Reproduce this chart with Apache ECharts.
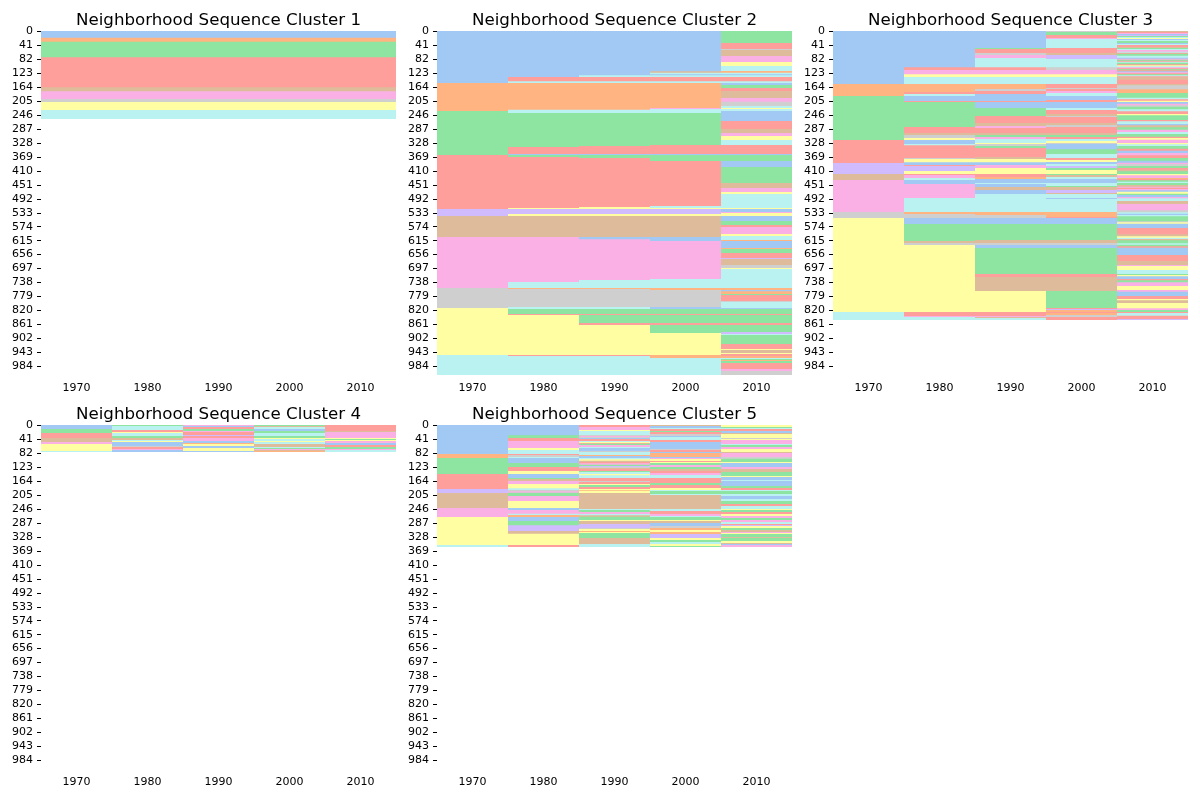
<!DOCTYPE html>
<html>
<head>
<meta charset="utf-8">
<style>html,body{margin:0;padding:0;background:#fff}#c{width:1200px;height:800px}</style>
<script src="https://cdn.jsdelivr.net/npm/echarts@6/dist/echarts.min.js"></script>
</head>
<body>
<div id="c"></div>
<script>
// Decades and neighbourhood-type colours
const decades = ['1970', '1980', '1990', '2000', '2010'];
const stateColors = ['#a1c9f4', '#ffb482', '#8de5a1', '#ff9f9b', '#d0bbff', '#debb9b', '#fab0e4', '#cfcfcf', '#fffea3', '#b9f2f0'];
const yTickLabels = [0, 41, 82, 123, 164, 205, 246, 287, 328, 369, 410, 451, 492, 533, 574, 615, 656, 697, 738, 779, 820, 861, 902, 943, 984];
const xMeasuredToRows = 0.98; // run lengths below were read in third-of-a-pixel steps

// Each list: state, run length, state, run length ...
const c1_all = [0,20,1,12,2,47,3,90,5,12,6,23,7,9,8,24,9,27];

const c2_1970 = [0,156,1,84,2,132,3,162,4,21,5,63,6,153,7,60,8,141,9,60];
const c2_1980 = [0,138,3,13,9,5,1,80,9,10,2,102,3,21,0,3,2,6,3,153,8,3,4,15,8,6,5,63,6,135,9,18,1,3,7,54,9,6,2,15,3,3,8,120,3,3,9,57];
const c2_1990 = [0,133,9,5,3,13,9,5,1,80,9,10,2,99,3,24,0,3,2,9,3,147,8,6,4,15,8,6,5,63,0,7,6,122,9,24,1,3,7,54,9,6,2,15,3,3,2,24,3,6,8,90,3,3,9,57];
const c2_2000 = [0,121,5,4,9,5,0,3,9,5,3,13,9,5,1,75,6,3,9,12,2,96,3,27,0,3,2,18,3,135,9,6,8,3,4,15,8,6,5,63,0,12,6,114,9,27,1,6,7,51,0,6,2,15,3,3,2,24,3,6,2,24,8,66,1,9,9,51];
const c2_2010 = [2,36,3,18,7,3,5,18,6,18,8,12,9,15,1,5,9,5,0,3,9,5,3,13,9,5,0,6,2,9,3,9,5,21,6,11,7,13,9,6,8,3,9,6,0,30,3,24,5,12,6,9,8,12,9,15,3,27,0,3,2,18,0,18,2,48,5,15,6,12,8,6,9,42,8,3,0,9,6,3,8,9,0,15,2,12,3,6,6,21,8,6,9,12,1,3,0,21,1,3,2,12,3,15,4,3,5,18,7,9,8,3,9,57,1,6,0,4,1,8,2,3,3,18,7,3,9,18,0,3,2,15,3,3,2,24,3,6,2,21,4,6,9,3,2,27,3,15,8,3,5,9,8,3,3,6,1,6,9,3,2,3,1,3,2,6,3,18,6,6,7,12];

const c3_1970 = [0,159,1,36,2,132,3,69,4,33,5,18,6,96,7,18,8,282,9,24];
const c3_1980 = [0,109,3,8,6,13,8,8,9,21,1,24,3,6,9,6,0,15,3,3,2,75,3,18,5,6,7,9,8,6,0,12,9,4,3,38,7,3,8,10,0,8,3,3,4,15,8,9,3,3,6,9,9,6,0,12,6,42,9,42,1,6,7,12,0,18,2,51,5,6,7,6,8,201,3,12,6,3,9,9];
const c3_1990 = [0,51,2,3,3,12,7,6,6,9,9,28,3,8,6,13,8,8,9,21,1,15,7,6,3,9,0,21,3,3,0,18,2,24,3,21,5,9,6,6,3,15,5,6,2,6,6,6,9,12,8,3,7,6,2,6,3,27,5,6,8,10,0,8,6,9,8,18,3,9,1,6,0,12,9,3,0,9,5,9,0,12,9,54,1,9,7,9,0,18,2,48,5,9,7,6,0,9,2,78,3,9,5,42,8,63,3,12,6,3,5,3,9,6];
const c3_2000 = [7,3,2,9,3,9,6,3,9,27,3,15,5,6,4,12,9,25,7,8,6,13,8,8,9,21,3,12,7,3,3,6,6,6,9,9,0,12,3,6,0,18,9,6,3,12,5,6,7,3,3,18,5,6,7,6,3,18,5,6,2,6,3,6,9,6,8,6,7,3,0,16,2,14,9,12,3,6,8,6,0,6,9,6,4,6,2,6,8,12,2,3,5,6,9,6,0,12,9,9,2,3,5,9,4,9,5,3,9,12,0,3,9,39,1,15,3,3,0,18,2,48,5,9,7,6,0,9,2,78,3,9,5,42,2,51,3,3,4,3,1,6,3,3,1,6,7,6,3,9];
const c3_2010 = [5,3,3,3,6,3,0,3,4,3,2,3,9,3,8,3,0,3,9,3,2,6,0,3,9,3,3,6,5,3,2,3,9,3,6,5,9,3,3,3,2,6,9,6,0,3,6,3,2,3,3,3,9,3,2,5,3,3,8,3,9,3,6,3,3,3,2,3,3,3,0,3,6,3,3,3,2,3,9,3,3,3,5,7,3,13,5,4,7,12,1,11,2,14,9,5,3,4,8,4,0,5,6,5,7,4,2,8,9,6,3,8,8,4,2,14,3,4,9,8,0,4,5,6,2,7,6,7,9,6,2,8,3,4,8,5,6,10,8,4,9,5,2,8,3,6,0,7,6,7,3,8,2,8,0,6,6,4,7,6,2,6,3,5,5,5,2,8,8,4,6,8,1,3,3,4,2,4,9,4,2,6,5,5,6,3,3,4,6,4,0,4,8,6,2,4,0,6,6,4,9,8,5,9,6,19,7,6,9,4,0,4,9,4,2,15,7,3,8,4,0,13,3,19,5,6,8,4,9,4,5,4,2,9,9,4,2,5,3,4,0,22,3,18,5,12,6,3,8,12,9,12,2,3,8,4,0,8,3,4,2,6,6,11,8,12,6,5,0,13,3,9,8,4,5,8,8,16,6,5,2,6,3,3,9,8,3,10,4,3];

const c4_1970 = [0,12,2,12,3,15,5,12,6,6,8,21,9,3];
const c4_1980 = [2,3,9,12,3,6,8,3,9,9,2,6,5,6,9,3,8,3,0,12,7,3,3,6,6,3,0,6];
const c4_1990 = [6,3,0,3,3,6,2,6,6,3,3,9,4,3,3,6,6,9,0,6,1,3,8,6,0,6,8,9,0,3];
const c4_2000 = [2,3,5,3,9,6,0,6,2,6,9,9,2,6,8,3,9,6,8,3,9,6,5,9,9,3,2,3,6,3,5,3,1,3];
const c4_2010 = [3,18,5,3,6,18,8,3,2,3,8,3,6,6,0,6,3,6,2,6,6,3,9,6];

const c5_1970 = [0,87,1,12,2,48,3,45,4,12,5,45,6,27,8,84,9,6];
const c5_1980 = [0,31,2,8,3,9,6,21,8,6,9,12,3,3,7,6,9,3,0,15,2,12,3,12,8,9,0,12,2,3,5,6,6,9,8,13,9,5,7,4,6,4,2,10,6,15,8,21,0,6,6,11,9,4,1,6,0,12,2,13,4,17,5,8,8,34,3,6];
const c5_1990 = [3,6,6,9,8,3,9,12,7,3,6,3,7,3,0,3,3,6,9,3,8,3,5,3,2,3,6,6,9,3,0,9,7,3,9,9,1,3,0,6,9,4,8,4,5,4,3,4,6,4,2,4,4,3,7,3,5,3,3,6,2,3,9,6,8,4,9,8,3,9,7,3,3,6,8,3,2,6,3,6,8,3,1,2,8,7,5,48,9,3,2,6,6,6,9,4,5,4,2,10,8,3,5,9,4,12,7,3,8,6,1,3,8,3,2,15,5,18,9,9];
const c5_2000 = [5,3,0,6,9,3,3,6,2,3,3,6,7,6,0,3,9,9,3,6,0,21,7,3,3,6,0,3,1,12,0,3,6,3,8,6,3,3,8,3,2,6,6,6,2,6,5,6,3,6,6,6,9,9,3,15,2,6,3,9,8,6,9,3,2,9,9,3,5,42,9,6,3,9,6,6,9,3,2,9,8,3,5,6,0,9,7,6,1,6,8,6,1,6,4,12,8,6,2,6,9,6,8,6,2,3];
const c5_2010 = [8,6,2,3,9,3,3,6,0,6,5,3,8,12,7,3,8,3,6,12,9,3,2,6,6,6,8,9,5,3,6,12,7,5,2,10,8,3,0,12,6,6,5,9,2,12,8,3,0,9,9,3,0,15,2,6,3,6,9,3,2,9,9,6,0,9,9,6,2,9,3,6,9,9,8,3,2,6,3,6,8,6,6,6,2,6,6,6,9,6,3,3,4,3,8,6,2,6,5,6,6,3,8,3,2,9,5,3,2,9,8,6,5,3,0,3,6,6];

const clusters = [
  { title: 'Neighborhood Sequence Cluster 1', columns: [c1_all, c1_all, c1_all, c1_all, c1_all] },
  { title: 'Neighborhood Sequence Cluster 2', columns: [c2_1970, c2_1980, c2_1990, c2_2000, c2_2010] },
  { title: 'Neighborhood Sequence Cluster 3', columns: [c3_1970, c3_1980, c3_1990, c3_2000, c3_2010] },
  { title: 'Neighborhood Sequence Cluster 4', columns: [c4_1970, c4_1980, c4_1990, c4_2000, c4_2010] },
  { title: 'Neighborhood Sequence Cluster 5', columns: [c5_1970, c5_1980, c5_1990, c5_2000, c5_2010] }
];

const totalRows = 1032 * xMeasuredToRows;
const panelBox = [[41, 31], [437, 31], [833, 31], [41, 425], [437, 425]];
const panelW = 355, panelH = 344;
const font = '"DejaVu Sans", sans-serif';
const yTickValues = yTickLabels.map(v => v + 1.5);

function runsOf(columns) {
  const out = [];
  columns.forEach((list, col) => {
    let total = 0;
    for (let i = 1; i < list.length; i += 2) total += list[i];
    let at = 0;
    for (let i = 0; i < list.length; i += 2) {
      // Each run is painted down to the end of its column; the next run covers the rest.
      out.push([col, at * xMeasuredToRows, total * xMeasuredToRows, list[i]]);
      at += list[i + 1];
    }
  });
  return out;
}

function renderRun(params, api) {
  const w = api.size([1, 0])[0];
  const cx = api.coord([api.value(0), 0])[0];
  const y0 = api.coord([0, api.value(1)])[1];
  const y1 = api.coord([0, api.value(2)])[1];
  return {
    type: 'rect',
    shape: { x: cx - w / 2, y: y0, width: w, height: y1 - y0 },
    style: { fill: stateColors[api.value(3)] }
  };
}

const option = {
  animation: false,
  backgroundColor: '#fff',
  textStyle: { fontFamily: font },
  title: clusters.map((c, i) => ({
    text: c.title,
    left: panelBox[i][0] + panelW / 2,
    top: panelBox[i][1] - 19,
    padding: 0,
    textAlign: 'center',
    textStyle: { fontFamily: font, fontSize: 16.67, fontWeight: 'normal', color: '#000', lineHeight: 18 }
  })),
  grid: clusters.map((c, i) => ({
    left: panelBox[i][0], top: panelBox[i][1], width: panelW, height: panelH, containLabel: false
  })),
  xAxis: clusters.map((c, i) => ({
    type: 'category', gridIndex: i, data: decades, boundaryGap: true,
    axisLine: { show: false },
    axisTick: { alignWithLabel: true, length: 4, lineStyle: { color: '#000', width: 1 } },
    axisLabel: { fontFamily: font, fontSize: 11, color: '#000', margin: 8, interval: 0 },
    splitLine: { show: false }
  })),
  yAxis: clusters.map((c, i) => ({
    type: 'value', gridIndex: i, inverse: true, min: 0, max: totalRows,
    axisLine: { show: false },
    axisTick: { show: true, length: 4, customValues: yTickValues, lineStyle: { color: '#000', width: 1 } },
    axisLabel: {
      fontFamily: font, fontSize: 11, color: '#000', margin: 8, padding: [1, 0, 0, 0],
      customValues: yTickValues,
      formatter: v => String(Math.floor(v) - 1)
    },
    splitLine: { show: false }
  })),
  series: clusters.map((c, i) => ({
    type: 'custom', xAxisIndex: i, yAxisIndex: i, silent: true,
    renderItem: renderRun, data: runsOf(c.columns), clip: true,
    encode: { x: 0, y: [1, 2] }
  }))
};

const chart = echarts.init(document.getElementById('c'), null, { renderer: 'canvas', width: 1200, height: 800 });
chart.setOption(option);
</script>
</body>
</html>
